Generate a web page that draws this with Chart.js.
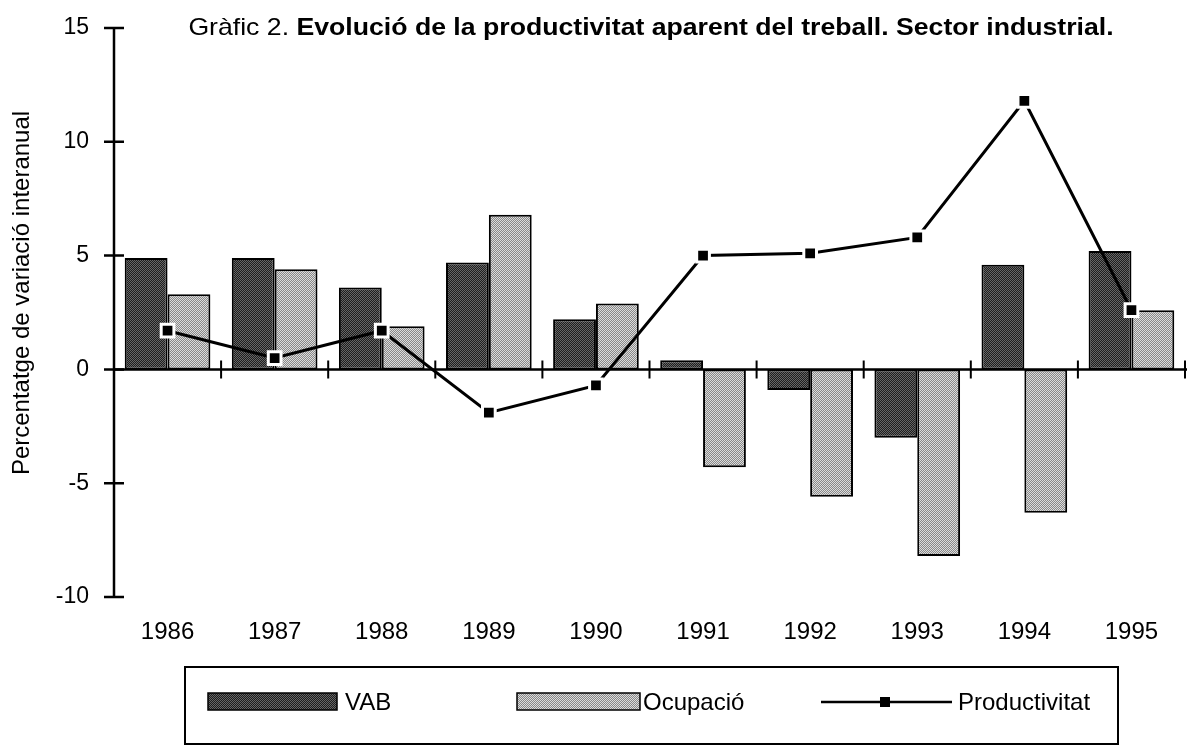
<!DOCTYPE html>
<html>
<head>
<meta charset="utf-8">
<script src="https://cdn.jsdelivr.net/npm/chart.js@4.4.1/dist/chart.umd.min.js"></script>
<style>
  html, body { margin: 0; padding: 0; background: #fff; overflow: hidden; }
  #wrap { position: relative; width: 1197px; height: 745px; }
  #titol {
    position: absolute; left: 151px; top: 13px; width: 1000px;
    text-align: center; color: #000; white-space: nowrap;
    font: 24px "Liberation Sans", Arial, sans-serif;
    transform: scaleX(1.11); transform-origin: 500px 0;
  }
</style>
</head>
<body>
<div id="wrap">
  <canvas id="grafic" width="1197" height="745"></canvas>
  <div id="titol">Gràfic 2. <b>Evolució de la productivitat aparent del treball. Sector industrial.</b></div>
</div>
<script>
// Dades llegides del gràfic
const anys = ['1986', '1987', '1988', '1989', '1990', '1991', '1992', '1993', '1994', '1995'];
const vab = [4.9, 4.9, 3.6, 4.7, 2.2, 0.4, -0.9, -3.0, 4.6, 5.2];
const ocupacio = [3.3, 4.4, 1.9, 6.8, 2.9, -4.3, -5.6, -8.2, -6.3, 2.6];
const productivitat = [1.7, 0.5, 1.7, -1.9, -0.7, 5.0, 5.1, 5.8, 11.8, 2.6];
const ticksY = [-10, -5, 0, 5, 10, 15];

const FONT = '"Liberation Sans", Arial, sans-serif';

// Trama de punts per a les barres
function trama(fosc, clar) {
    const c = document.createElement('canvas');
    c.width = 2; c.height = 2;
    const g = c.getContext('2d');
    g.fillStyle = fosc; g.fillRect(0, 0, 2, 2);
    g.fillStyle = clar; g.fillRect(0, 0, 1, 1); g.fillRect(1, 1, 1, 1);
    return g.createPattern(c, 'repeat');
}
const tramaVab = trama('#1e1e1e', '#666666');
const tramaOcup = trama('#888888', '#dcdcdc');

// Eixos: línia del zero amb marques i eix vertical amb marques creuades
const eixos = {
    id: 'eixos',
    beforeDatasetsDraw(chart) {
        const { ctx, chartArea: a, scales: { x, y } } = chart;
        const y0 = y.getPixelForValue(0);
        const pas = x.getPixelForValue(1) - x.getPixelForValue(0);
        ctx.save();
        ctx.strokeStyle = '#000';
        ctx.lineWidth = 2.5;
        ctx.beginPath();
        ctx.moveTo(a.left, y0); ctx.lineTo(a.right + 2, y0);
        ctx.moveTo(a.left, a.top); ctx.lineTo(a.left, a.bottom);
        ctx.stroke();
        ctx.lineWidth = 2;
        ctx.beginPath();
        for (let i = 0; i < anys.length; i++) {
            const xb = x.getPixelForValue(i) + pas / 2;
            ctx.moveTo(xb, y0 - 9); ctx.lineTo(xb, y0 + 9);
        }
        ctx.stroke();
        ctx.lineWidth = 2.5;
        ctx.beginPath();
        ticksY.forEach(v => {
            const yy = y.getPixelForValue(v);
            ctx.moveTo(a.left - 10, yy); ctx.lineTo(a.left + 10, yy);
        });
        ctx.stroke();
        ctx.restore();
    },
    afterDraw(chart) {
        const ctx = chart.ctx;
        ctx.save();
        // títol de l'eix Y
        ctx.translate(22, 293);
        ctx.rotate(-Math.PI / 2);
        ctx.font = '24px ' + FONT;
        ctx.fillStyle = '#000';
        ctx.textAlign = 'center';
        ctx.textBaseline = 'middle';
        ctx.fillText('Percentatge de variació interanual', 0, 0);
        ctx.restore();
    }
};

// Llegenda en caixa
const llegenda = {
    id: 'llegenda',
    afterDraw(chart) {
        const ctx = chart.ctx;
        const ds = chart.data.datasets;
        ctx.save();
        ctx.strokeStyle = '#000';
        ctx.lineWidth = 2;
        ctx.strokeRect(185, 667, 933, 77);
        ctx.font = '24px ' + FONT;
        ctx.textBaseline = 'middle';

        ctx.fillStyle = ds[1].backgroundColor;
        ctx.fillRect(208, 693, 129, 17);
        ctx.lineWidth = 1.5;
        ctx.strokeRect(208, 693, 129, 17);
        ctx.fillStyle = '#000';
        ctx.fillText(ds[1].label, 345, 703);

        ctx.fillStyle = ds[2].backgroundColor;
        ctx.fillRect(517, 693, 123, 17);
        ctx.strokeRect(517, 693, 123, 17);
        ctx.fillStyle = '#000';
        ctx.fillText(ds[2].label, 643, 703);

        ctx.lineWidth = 2.5;
        ctx.beginPath();
        ctx.moveTo(821, 702); ctx.lineTo(952, 702);
        ctx.stroke();
        ctx.fillRect(880, 697, 10, 10);
        ctx.fillText(ds[0].label, 958, 703);
        ctx.restore();
    }
};

new Chart(document.getElementById('grafic'), {
    type: 'bar',
    data: {
        labels: anys,
        datasets: [
            {
                type: 'line',
                label: 'Productivitat',
                data: productivitat,
                order: 0,
                borderColor: '#000',
                borderWidth: 3,
                tension: 0,
                pointStyle: 'rect',
                pointRadius: 9,
                pointBackgroundColor: '#000',
                pointBorderColor: '#fff',
                pointBorderWidth: 3
            },
            {
                label: 'VAB',
                data: vab,
                order: 1,
                backgroundColor: tramaVab,
                borderColor: '#000',
                borderWidth: 2,
                borderSkipped: false,
                categoryPercentage: 0.8,
                barPercentage: 1.0
            },
            {
                label: 'Ocupació',
                data: ocupacio,
                order: 2,
                backgroundColor: tramaOcup,
                borderColor: '#000',
                borderWidth: 2,
                borderSkipped: false,
                categoryPercentage: 0.8,
                barPercentage: 1.0
            }
        ]
    },
    options: {
        responsive: false,
        animation: false,
        layout: { padding: { top: 28, right: 2, bottom: 98, left: 0 } },
        plugins: {
            legend: { display: false },
            title: { display: false },
            tooltip: { enabled: false }
        },
        scales: {
            x: {
                grid: { display: false, drawTicks: false },
                border: { display: false },
                ticks: { color: '#000', font: { family: FONT, size: 24 }, padding: 21, maxRotation: 0 },
                afterFit(scale) { scale.height = 50; scale.paddingLeft = 0; scale.paddingRight = 0; }
            },
            y: {
                min: -10,
                max: 15,
                grid: { display: false, drawTicks: false },
                border: { display: false },
                afterBuildTicks(scale) { scale.ticks = ticksY.map(v => ({ value: v })); },
                ticks: { color: '#000', font: { family: FONT, size: 23 }, padding: 25 },
                afterFit(scale) { scale.width = 114; scale.paddingTop = 0; scale.paddingBottom = 0; }
            }
        }
    },
    plugins: [eixos, llegenda]
});
</script>
</body>
</html>
